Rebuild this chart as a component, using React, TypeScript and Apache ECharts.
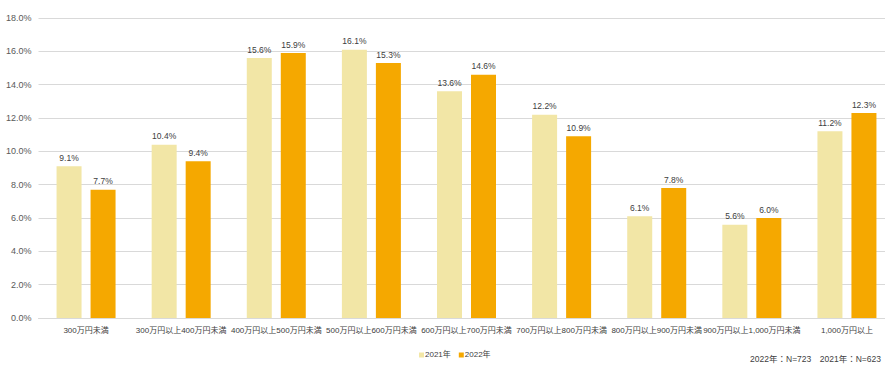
import React, { useEffect, useRef } from "react";
import * as echarts from "echarts";

const categories = [
  "300万円未満",
  "300万円以上400万円未満",
  "400万円以上500万円未満",
  "500万円以上600万円未満",
  "600万円以上700万円未満",
  "700万円以上800万円未満",
  "800万円以上900万円未満",
  "900万円以上1,000万円未満",
  "1,000万円以上",
];
const seriesNames = ["2021年", "2022年"];
const values2021 = [9.1, 10.4, 15.6, 16.1, 13.6, 12.2, 6.1, 5.6, 11.2];
const values2022 = [7.7, 9.4, 15.9, 15.3, 14.6, 10.9, 7.8, 6.0, 12.3];
const noteText = "2022年：N=723　2021年：N=623";

const FONT = '"Liberation Sans", Arial, "Noto Sans CJK JP", sans-serif';

export default function App() {
  const ref = useRef<HTMLDivElement>(null);
  useEffect(() => {
    if (!ref.current) return;
    const chart = echarts.init(ref.current, undefined, { renderer: "svg" });
    const label = {
      show: true,
      position: "top" as const,
      distance: 4,
      fontSize: 8.5,
      color: "#404040",
      fontFamily: FONT,
      formatter: (p: any) => Number(p.value).toFixed(1) + "%",
    };
    chart.setOption({
      animation: false,
      textStyle: { fontFamily: FONT },
      grid: { left: 38.5, top: 18, width: 856, height: 300, containLabel: false },
      legend: {
        data: seriesNames,
        top: 346,
        left: 414,
        itemWidth: 5,
        itemHeight: 5,
        itemGap: 8,
        icon: "rect",
        textStyle: { fontSize: 8, color: "#404040", fontFamily: FONT, padding: [0, 0, 0, -4] },
      },
      graphic: [
        {
          type: "text",
          right: 19,
          top: 355,
          style: { text: noteText, fontSize: 8.5, fill: "#404040", fontFamily: FONT },
        },
      ],
      xAxis: {
        type: "category",
        data: categories,
        axisLine: { lineStyle: { color: "#d9d9d9" } },
        axisTick: { show: false },
        axisLabel: { interval: 0, fontSize: 8, color: "#404040", margin: 8, fontFamily: FONT },
      },
      yAxis: {
        type: "value",
        min: 0,
        max: 18,
        interval: 2,
        axisLine: { show: false },
        axisTick: { show: false },
        splitLine: { lineStyle: { color: "#d9d9d9" } },
        axisLabel: {
          fontSize: 9,
          color: "#595959",
          margin: 7,
          fontFamily: FONT,
          formatter: (v: number) => v.toFixed(1) + "%",
        },
      },
      series: [
        {
          name: seriesNames[0],
          type: "bar",
          data: values2021,
          barWidth: 25,
          barGap: "36%",
          itemStyle: { color: "#F2E6A6" },
          label,
        },
        {
          name: seriesNames[1],
          type: "bar",
          data: values2022,
          barWidth: 25,
          barGap: "36%",
          itemStyle: { color: "#F5A800" },
          label,
        },
      ],
    });
    return () => chart.dispose();
  }, []);
  return (
    <div style={{ position: "fixed", left: 0, top: 0, width: 885, height: 370, overflow: "hidden", background: "#fff" }}>
      <div ref={ref} style={{ width: 900, height: 370 }} />
    </div>
  );
}
